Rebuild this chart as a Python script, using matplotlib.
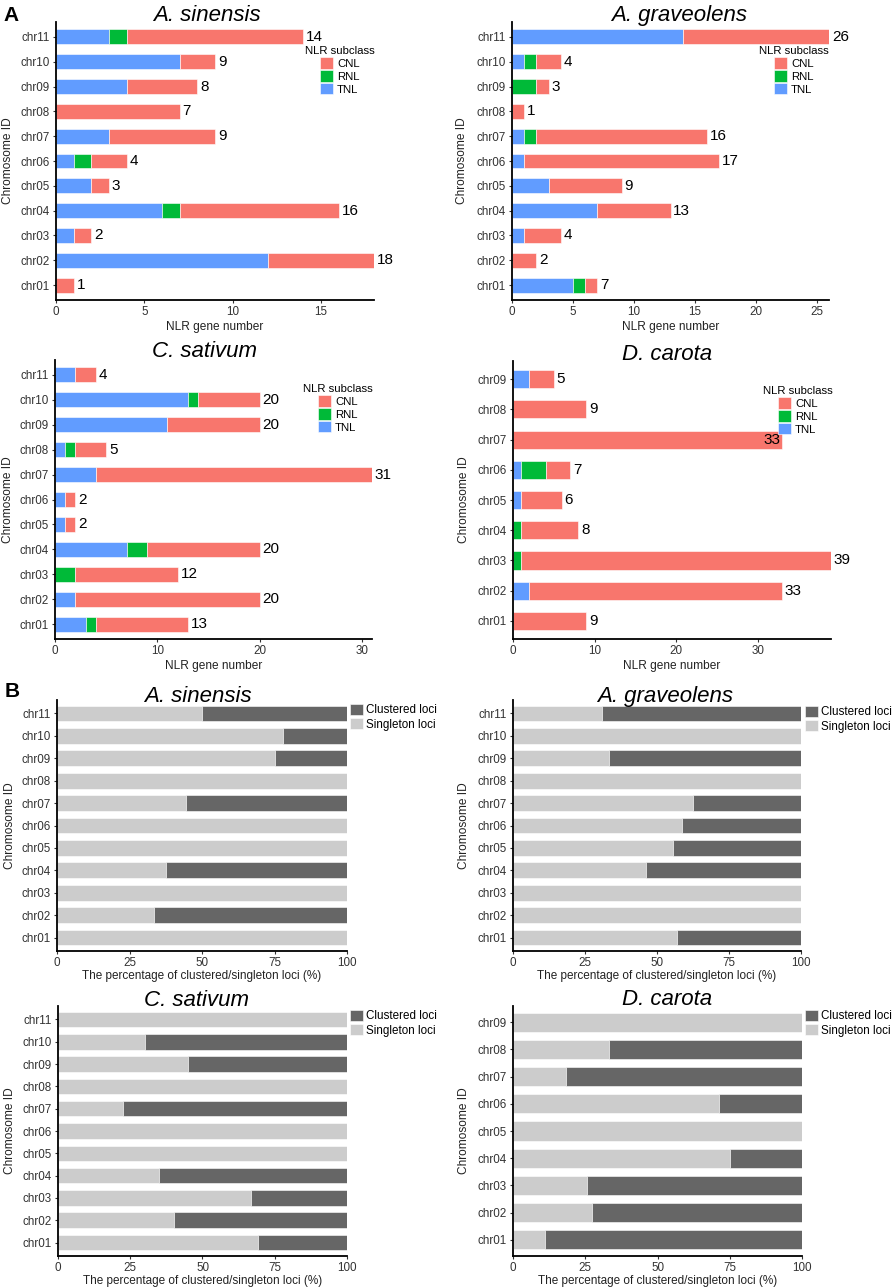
import matplotlib
matplotlib.use("Agg")
import matplotlib.pyplot as plt
import numpy as np

plt.rcParams["font.family"] = ["Liberation Sans", "DejaVu Sans"]

W, H = 892, 1288

# ---- Panel A data: NLR counts per chromosome (chr01 first) ----
chroms11 = ["chr01", "chr02", "chr03", "chr04", "chr05", "chr06",
            "chr07", "chr08", "chr09", "chr10", "chr11"]
chroms9 = chroms11[:9]

sin_tnl = [0, 12, 1, 6, 2, 1, 3, 0, 4, 7, 3]
sin_rnl = [0, 0, 0, 1, 0, 1, 0, 0, 0, 0, 1]
sin_cnl = [1, 6, 1, 9, 1, 2, 6, 7, 4, 2, 10]

gra_tnl = [5, 0, 1, 7, 3, 1, 1, 0, 0, 1, 14]
gra_rnl = [1, 0, 0, 0, 0, 0, 1, 0, 2, 1, 0]
gra_cnl = [1, 2, 3, 6, 6, 16, 14, 1, 1, 2, 12]

sat_tnl = [3, 2, 0, 7, 1, 1, 4, 1, 11, 13, 2]
sat_rnl = [1, 0, 2, 2, 0, 0, 0, 1, 0, 1, 0]
sat_cnl = [9, 18, 10, 11, 1, 1, 27, 3, 9, 6, 2]

car_tnl = [0, 2, 0, 0, 1, 1, 0, 0, 2]
car_rnl = [0, 0, 1, 1, 0, 3, 0, 0, 0]
car_cnl = [9, 31, 38, 7, 5, 3, 33, 9, 3]

# ---- Panel B data: singleton loci percentage per chromosome ----
sin_single = [100, 33.3, 100, 37.5, 100, 100, 44.4, 100, 75.0, 77.8, 50.0]
gra_single = [57.1, 100, 100, 46.2, 55.6, 58.8, 62.5, 100, 33.3, 100, 30.8]
sat_single = [69.2, 40.0, 66.7, 35.0, 100, 100, 22.6, 100, 45.0, 30.0, 100]
car_single = [11.1, 27.3, 25.6, 75.0, 100, 71.4, 18.2, 33.3, 100]

C_CNL, C_RNL, C_TNL = "#F8766D", "#00BA38", "#619CFF"
C_CLU, C_SIN = "#666666", "#CCCCCC"

fig = plt.figure(figsize=(W / 100, H / 100), dpi=100)


def add_ax(l, t, r, b):
    return fig.add_axes([l / W, 1 - b / H, (r - l) / W, (b - t) / H])


def style(ax, ylab_x, l, r):
    for s in ("top", "right"):
        ax.spines[s].set_visible(False)
    for s in ("left", "bottom"):
        ax.spines[s].set_linewidth(1.3)
        ax.spines[s].set_color("black")
    ax.tick_params(length=2.5, width=0.8, color="#333333",
                   labelsize=8.4, labelcolor="#333333", pad=2)
    ax.set_ylabel("Chromosome ID", fontsize=8.6, color="#222222")
    ax.yaxis.set_label_coords((ylab_x - l) / (r - l), 0.5)


def title(x, y, txt):
    fig.text(x / W, 1 - y / H, txt, fontsize=16, style="italic",
             ha="center", va="baseline")


def nlr_panel(box, chroms, tnl, rnl, cnl, xmax, xticks, name, tpos,
              ylab_x, leg_xy, inside=()):
    l, t, r, b = box
    ax = add_ax(l, t, r, b)
    y = np.arange(1, len(chroms) + 1)
    tnl, rnl, cnl = map(np.array, (tnl, rnl, cnl))
    kw = dict(height=0.6, edgecolor="white", linewidth=0.4)
    ht = ax.barh(y, tnl, color=C_TNL, **kw)
    hr = ax.barh(y, rnl, left=tnl, color=C_RNL, **kw)
    hc = ax.barh(y, cnl, left=tnl + rnl, color=C_CNL, **kw)
    tot = tnl + rnl + cnl
    for yi, v, c in zip(y, tot, chroms):
        if c in inside:
            ax.annotate(str(v), (v, yi), xytext=(-1, 0), textcoords="offset points",
                        ha="right", va="center", fontsize=11)
        else:
            ax.annotate(str(v), (v, yi), xytext=(2, 0), textcoords="offset points",
                        ha="left", va="center", fontsize=11)
    ax.set_yticks(y, chroms)
    ax.set_xticks(xticks)
    ax.set_xlim(0, xmax)
    ax.set_ylim(0.4, len(chroms) + 0.6)
    ax.set_xlabel("NLR gene number", fontsize=8.6, labelpad=2, color="#222222")
    style(ax, ylab_x, l, r)
    ax.legend([hc, hr, ht], ["CNL", "RNL", "TNL"], title="NLR subclass",
              loc="upper left", bbox_to_anchor=(leg_xy[0] / W, 1 - leg_xy[1] / H),
              bbox_transform=fig.transFigure, frameon=False, fontsize=8.2,
              title_fontsize=8.2, handlelength=1.15, handleheight=1.15,
              handletextpad=0.35, labelspacing=0.12, borderpad=0,
              borderaxespad=0)
    title(tpos[0], tpos[1], name)
    return ax


def loci_panel(box, chroms, single, name, tpos, ylab_x, leg_xy):
    l, t, r, b = box
    ax = add_ax(l, t, r, b)
    y = np.arange(1, len(chroms) + 1)
    single = np.array(single)
    kw = dict(height=0.7, edgecolor="white", linewidth=0.4)
    hs = ax.barh(y, single, color=C_SIN, **kw)
    hc = ax.barh(y, 100 - single, left=single, color=C_CLU, **kw)
    ax.set_yticks(y, chroms)
    ax.set_xticks([0, 25, 50, 75, 100])
    ax.set_xlim(0, 100)
    ax.set_ylim(0.4, len(chroms) + 0.6)
    ax.set_xlabel("The percentage of clustered/singleton loci (%)",
                  fontsize=8.5, labelpad=0.5, color="#222222")
    style(ax, ylab_x, l, r)
    ax.legend([hc, hs], ["Clustered loci", "Singleton loci"],
              loc="upper left", bbox_to_anchor=(leg_xy[0] / W, 1 - leg_xy[1] / H),
              bbox_transform=fig.transFigure, frameon=False, fontsize=8.4,
              handlelength=1.08, handleheight=1.08, handletextpad=0.3,
              labelspacing=0.15, borderpad=0, borderaxespad=0)
    title(tpos[0], tpos[1], name)
    return ax


# --- Panel A ---
nlr_panel((56, 22, 374, 300), chroms11, sin_tnl, sin_rnl, sin_cnl, 18,
          [0, 5, 10, 15], "A. sinensis", (207, 21), 14, (305, 46))
nlr_panel((512, 22, 829, 300), chroms11, gra_tnl, gra_rnl, gra_cnl, 26,
          [0, 5, 10, 15, 20, 25], "A. graveolens", (679, 21), 468, (759, 46))
nlr_panel((55, 360, 372, 639), chroms11, sat_tnl, sat_rnl, sat_cnl, 31,
          [0, 10, 20, 30], "C. sativum", (204, 357), 14, (303, 384))
nlr_panel((513, 361, 831, 639), chroms9, car_tnl, car_rnl, car_cnl, 39,
          [0, 10, 20, 30], "D. carota", (667, 360), 470, (763, 386),
          inside=("chr07",))

# --- Panel B ---
loci_panel((57, 700, 347, 951), chroms11, sin_single, "A. sinensis",
           (198, 702), 16, (350, 704))
loci_panel((513, 700, 801, 951), chroms11, gra_single, "A. graveolens",
           (665, 702), 470, (805, 706))
loci_panel((58, 1006, 347, 1256), chroms11, sat_single, "C. sativum",
           (197, 1006), 16, (350, 1010))
loci_panel((513, 1006, 802, 1256), chroms9, car_single, "D. carota",
           (667, 1005), 470, (805, 1010))

fig.text(3 / W, 1 - 21 / H, "A", fontsize=15, fontweight="bold", va="baseline")
fig.text(5 / W, 1 - 697 / H, "B", fontsize=15, fontweight="bold", va="baseline")

fig.savefig("out.png", dpi=100)
